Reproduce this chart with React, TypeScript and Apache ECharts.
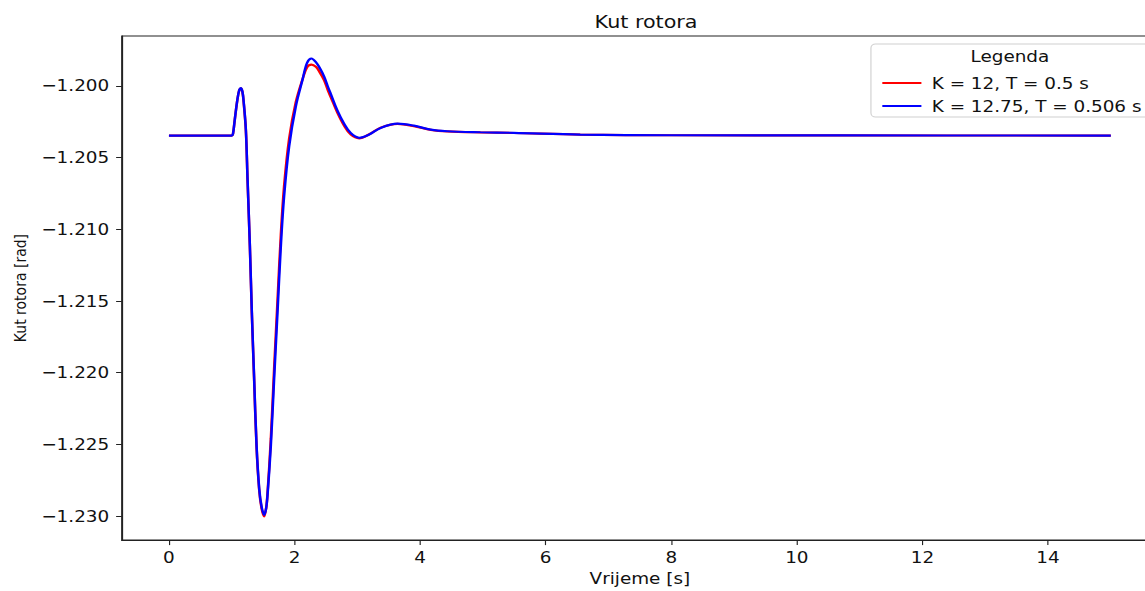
import React, { useEffect, useRef } from "react";
import * as echarts from "echarts";

// Time axis [s]
const time = [
  0, 1.0, 1.02, 1.05, 1.09, 1.12, 1.145, 1.17, 1.19, 1.225, 1.252, 1.289, 1.32,
  1.357, 1.395, 1.437, 1.475, 1.517, 1.548, 1.57, 1.623, 1.675, 1.729, 1.782,
  1.834, 1.914, 2.02, 2.127, 2.2, 2.27, 2.34, 2.4, 2.47, 2.53, 2.58, 2.68, 2.79,
  2.895, 3.03, 3.19, 3.37, 3.64, 3.9, 4.17, 4.43, 4.96, 5.49, 6.55, 8.0, 10.69,
  15.0,
];

// K = 12, T = 0.5 s
const angleRed = [
  -1.20347, -1.20347, -1.20335, -1.2023, -1.20097, -1.2003, -1.20018, -1.20043,
  -1.20115, -1.20312, -1.2066, -1.21125, -1.21585, -1.22052, -1.22515, -1.22816,
  -1.22945, -1.23002, -1.22945, -1.2284, -1.2246, -1.21975, -1.215, -1.2104,
  -1.207, -1.2037, -1.20115, -1.19955, -1.1987, -1.19852, -1.19868, -1.19905,
  -1.1996, -1.2003, -1.20082, -1.20185, -1.20278, -1.2034, -1.20366, -1.20338,
  -1.20292, -1.20266, -1.20281, -1.20307, -1.20318, -1.20325, -1.20329, -1.2034,
  -1.20345, -1.20346, -1.20347,
];

// K = 12.75, T = 0.506 s
const angleBlue = [
  -1.20347, -1.20347, -1.20335, -1.2023, -1.20097, -1.2003, -1.20016, -1.2004,
  -1.2011, -1.20306, -1.20653, -1.21116, -1.21576, -1.22042, -1.22505, -1.22806,
  -1.22933, -1.22991, -1.22944, -1.22852, -1.22505, -1.22042, -1.21576, -1.21116,
  -1.20769, -1.20422, -1.20144, -1.19958, -1.1984, -1.1981, -1.19835, -1.19875,
  -1.19935, -1.20005, -1.2006, -1.2017, -1.20265, -1.2033, -1.20363, -1.2034,
  -1.20294, -1.20264, -1.20278, -1.20306, -1.20317, -1.20324, -1.20328, -1.2034,
  -1.20345, -1.20346, -1.20347,
];

const xTicks = [0, 2, 4, 6, 8, 10, 12, 14];
const yTicks = [-1.23, -1.225, -1.22, -1.215, -1.21, -1.205, -1.2];
const seriesNames = ["K = 12, T = 0.5 s", "K = 12.75, T = 0.506 s"];

const STRETCH = 1145 / 996;
const FONT = "DejaVu Sans";

export default function App() {
  const ref = useRef<HTMLDivElement>(null);
  useEffect(() => {
    if (!ref.current) return;
    const chart = echarts.init(ref.current, undefined, { renderer: "svg" });
    const red = time.map((t, i) => [t, angleRed[i]]);
    const blue = time.map((t, i) => [t, angleBlue[i]]);
    chart.setOption({
      animation: false,
      backgroundColor: "#ffffff",
      title: {
        text: "Kut rotora",
        left: 557,
        top: 8,
        textAlign: "center",
        textStyle: { fontFamily: FONT, fontSize: 18, fontWeight: "normal", color: "#111" },
      },
      grid: {
        left: 106,
        width: 901.2,
        top: 36,
        height: 506,
        show: true,
        borderColor: "#222",
        borderWidth: 1.2,
        backgroundColor: "transparent",
      },
      legend: {
        orient: "vertical",
        left: 762.5,
        top: 69,
        itemWidth: 34,
        itemHeight: 2,
        itemGap: 5,
        icon: "rect",
        data: seriesNames,
        textStyle: {
          fontFamily: FONT,
          fontSize: 16,
          color: "#111",
          lineHeight: 18,
          padding: [0, 0, 0, 4],
        },
      },
      graphic: [
        {
          type: "rect",
          z: 3,
          shape: { x: 757.6, y: 44, width: 300, height: 73, r: 4 },
          style: { fill: "rgba(255,255,255,0.85)", stroke: "#d0d0d0", lineWidth: 1 },
        },
        {
          type: "text",
          z: 5,
          x: 878.5,
          y: 56,
          style: {
            text: "Legenda",
            fontFamily: FONT,
            fontSize: 16,
            fill: "#111",
            align: "center",
            verticalAlign: "middle",
          },
        },
      ],
      xAxis: {
        type: "value",
        min: -0.75,
        max: 15.75,
        name: "Vrijeme [s]",
        nameLocation: "middle",
        nameGap: 29,
        nameTextStyle: { fontFamily: FONT, fontSize: 16, color: "#111", verticalAlign: "top" },
        axisLine: { show: true, onZero: false, lineStyle: { color: "#222", width: 1.2 } },
        axisTick: { show: true, length: 5, customValues: xTicks, lineStyle: { color: "#222" } },
        axisLabel: {
          customValues: xTicks,
          margin: 9,
          fontFamily: FONT,
          fontSize: 16,
          color: "#111",
          formatter: (v: number) => String(v),
        },
        splitLine: { show: false },
      },
      yAxis: {
        type: "value",
        min: -1.23167,
        max: -1.19653,
        name: "Kut rotora [rad]",
        nameLocation: "middle",
        nameGap: 80,
        nameRotate: 90,
        nameTextStyle: { fontFamily: FONT, fontSize: 14, color: "#111" },
        axisLine: { show: true, onZero: false, lineStyle: { color: "#222", width: 1.2 } },
        axisTick: { show: true, length: 5, customValues: yTicks, lineStyle: { color: "#222" } },
        axisLabel: {
          customValues: yTicks,
          margin: 11,
          fontFamily: FONT,
          fontSize: 16,
          color: "#111",
          formatter: (v: number) => (v < 0 ? "\u2212" : "") + Math.abs(v).toFixed(3),
        },
        splitLine: { show: false },
      },
      series: [
        {
          name: seriesNames[0],
          type: "line",
          data: red,
          showSymbol: false,
          symbol: "none",
          smooth: 0.35,
          lineStyle: { color: "#ff0000", width: 2.2 },
          itemStyle: { color: "#ff0000" },
          z: 2,
        },
        {
          name: seriesNames[1],
          type: "line",
          data: blue,
          showSymbol: false,
          symbol: "none",
          smooth: 0.35,
          lineStyle: { color: "#0000ff", width: 2.2 },
          itemStyle: { color: "#0000ff" },
          z: 2,
        },
      ],
    });
    return () => chart.dispose();
  }, []);
  return (
    <div
      style={{
        position: "absolute",
        left: 0,
        top: 0,
        width: 1145,
        height: 591,
        overflow: "hidden",
        background: "#fff",
      }}
    >
      <div
        ref={ref}
        style={{
          width: 1020,
          height: 591,
          transform: `scaleX(${STRETCH})`,
          transformOrigin: "0 0",
        }}
      />
    </div>
  );
}
